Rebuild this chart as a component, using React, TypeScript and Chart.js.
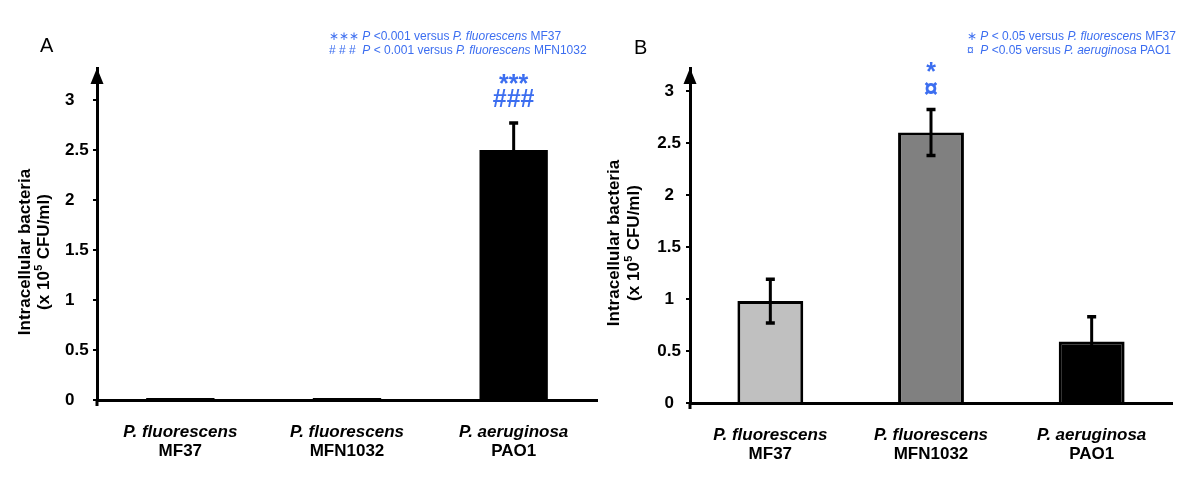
import React, { useEffect, useRef } from "react";
import { Chart, registerables } from "chart.js";

Chart.register(...registerables);

const FONT = '"Liberation Sans", Arial, sans-serif';
const BLUE = "#3c6ef0";

// ---- data ----
const species = ["P. fluorescens", "P. fluorescens", "P. aeruginosa"];
const strains = ["MF37", "MFN1032", "PAO1"];
const yTicks = [0, 0.5, 1, 1.5, 2, 2.5, 3];

const valuesA = [0.02, 0.02, 2.5];
const errorsA = [0, 0, 0.27];
const colorsA = ["#000000", "#000000", "#000000"];
const marksA: string[][] = [[], [], ["***", "###"]];

const valuesB = [0.98, 2.6, 0.59];
const errorsB = [0.21, 0.22, 0.24];
const colorsB = ["#c0c0c0", "#808080", "#000000"];
const marksB: string[][] = [[], ["*", "¤"], []];

type Seg = [string, boolean];
const legendA: Seg[][] = [
  [["∗∗∗ ", false], ["P", true], [" <0.001 versus ", false], ["P. fluorescens", true], [" MF37", false]],
  [["# # #  ", false], ["P", true], [" < 0.001 versus ", false], ["P. fluorescens", true], [" MFN1032", false]],
];
const legendB: Seg[][] = [
  [["∗ ", false], ["P", true], [" < 0.05 versus ", false], ["P. fluorescens", true], [" MF37", false]],
  [["¤  ", false], ["P", true], [" <0.05 versus ", false], ["P. aeruginosa", true], [" PAO1", false]],
];

const titleLine1 = "Intracellular bacteria";
const titleLine2 = ["(x 10", "5", " CFU/ml)"];

interface PanelCfg {
  letter: string;
  values: number[];
  errors: number[];
  colors: string[];
  marks: string[][];
  legend: Seg[][];
  borderWidth: number;
  yMax: number;
  padLeft: number;
  yWidth: number;
  tickAlign: string;
  padRight: number;
  xHeight: number;
  letterX: number;
  letterY: number;
  legendX: number;
  legendY: number[];
  titleX: number[];
  titleY: number;
  markGap: number;
  markStep: number;
}

const cfgA: PanelCfg = {
  letter: "A",
  values: valuesA,
  errors: errorsA,
  colors: colorsA,
  marks: marksA,
  legend: legendA,
  borderWidth: 0,
  yMax: 3.32,
  padLeft: 65,
  yWidth: 32,
  tickAlign: "far",
  padRight: 3,
  xHeight: 80,
  letterX: 40,
  letterY: 52,
  legendX: 329,
  legendY: [37, 51],
  titleX: [25, 44],
  titleY: 252,
  markGap: 16,
  markStep: 15,
};

const cfgB: PanelCfg = {
  letter: "B",
  values: valuesB,
  errors: errorsB,
  colors: colorsB,
  marks: marksB,
  legend: legendB,
  borderWidth: 3,
  yMax: 3.22,
  padLeft: 0,
  yWidth: 90,
  tickAlign: "center",
  padRight: 28,
  xHeight: 77,
  letterX: 34,
  letterY: 54,
  legendX: 367,
  legendY: [37, 51],
  titleX: [14, 34],
  titleY: 243,
  markGap: 13,
  markStep: 17,
};

function makeDecor(cfg: PanelCfg) {
  return {
    id: "decor",
    afterDraw(chart: any) {
      const { ctx, chartArea, scales } = chart;
      const xs = scales.x;
      const ys = scales.y;
      ctx.save();

      // error bars
      ctx.strokeStyle = "#000";
      ctx.lineCap = "butt";
      cfg.values.forEach((v, i) => {
        const e = cfg.errors[i];
        if (!e) return;
        const px = xs.getPixelForValue(i);
        const top = ys.getPixelForValue(v + e);
        const bot = ys.getPixelForValue(v - e);
        ctx.lineWidth = 3;
        ctx.beginPath();
        ctx.moveTo(px, top);
        ctx.lineTo(px, bot);
        ctx.stroke();
        ctx.lineWidth = 3.5;
        ctx.beginPath();
        ctx.moveTo(px - 4.5, top);
        ctx.lineTo(px + 4.5, top);
        ctx.moveTo(px - 4.5, bot);
        ctx.lineTo(px + 4.5, bot);
        ctx.stroke();
      });

      // significance marks
      ctx.fillStyle = BLUE;
      ctx.textAlign = "center";
      ctx.textBaseline = "alphabetic";
      cfg.marks.forEach((m, i) => {
        if (!m.length) return;
        const px = xs.getPixelForValue(i);
        const top = ys.getPixelForValue(cfg.values[i] + cfg.errors[i]);
        const n = m.length;
        m.forEach((s, k) => {
          ctx.font = `bold 25px ${FONT}`;
          const yy = top - cfg.markGap - (n - 1 - k) * cfg.markStep;
          ctx.fillText(s, px, yy);
        });
      });

      // arrow on y axis
      const L = chartArea.left;
      const T = chartArea.top;
      ctx.fillStyle = "#000";
      ctx.beginPath();
      ctx.moveTo(L, T);
      ctx.lineTo(L - 6.5, T + 16);
      ctx.lineTo(L + 6.5, T + 16);
      ctx.closePath();
      ctx.fill();
      ctx.lineWidth = 3;
      ctx.strokeStyle = "#000";
      ctx.beginPath();
      ctx.moveTo(L, chartArea.bottom);
      ctx.lineTo(L, chartArea.bottom + 6);
      ctx.stroke();

      // x labels
      ctx.fillStyle = "#000";
      ctx.textAlign = "center";
      ctx.textBaseline = "middle";
      strains.forEach((s, i) => {
        const px = xs.getPixelForValue(i);
        ctx.font = `italic bold 17px ${FONT}`;
        ctx.fillText(species[i], px, chartArea.bottom + 32);
        ctx.font = `bold 17px ${FONT}`;
        ctx.fillText(s, px, chartArea.bottom + 51);
      });

      // y title
      ctx.save();
      ctx.translate(cfg.titleX[0], cfg.titleY);
      ctx.rotate(-Math.PI / 2);
      ctx.font = `bold 17px ${FONT}`;
      ctx.textAlign = "center";
      ctx.textBaseline = "middle";
      ctx.fillText(titleLine1, 0, 0);
      ctx.restore();

      ctx.save();
      ctx.translate(cfg.titleX[1], cfg.titleY);
      ctx.rotate(-Math.PI / 2);
      ctx.textBaseline = "middle";
      ctx.textAlign = "left";
      ctx.font = `bold 17px ${FONT}`;
      const w1 = ctx.measureText(titleLine2[0]).width;
      const w3 = ctx.measureText(titleLine2[2]).width;
      ctx.font = `bold 11px ${FONT}`;
      const w2 = ctx.measureText(titleLine2[1]).width + 1;
      let sx = -(w1 + w2 + w3) / 2;
      ctx.font = `bold 17px ${FONT}`;
      ctx.fillText(titleLine2[0], sx, 0);
      sx += w1;
      ctx.font = `bold 11px ${FONT}`;
      ctx.fillText(titleLine2[1], sx + 0.5, -5);
      sx += w2;
      ctx.font = `bold 17px ${FONT}`;
      ctx.fillText(titleLine2[2], sx, 0);
      ctx.restore();

      // panel letter
      ctx.fillStyle = "#000";
      ctx.textAlign = "left";
      ctx.textBaseline = "alphabetic";
      ctx.font = `20px ${FONT}`;
      ctx.fillText(cfg.letter, cfg.letterX, cfg.letterY);

      // legend
      ctx.fillStyle = BLUE;
      ctx.textBaseline = "middle";
      cfg.legend.forEach((line, li) => {
        let lx = cfg.legendX;
        line.forEach(([t, it]) => {
          ctx.font = `${it ? "italic " : ""}12px ${FONT}`;
          ctx.fillText(t, lx, cfg.legendY[li]);
          lx += ctx.measureText(t).width;
        });
      });

      ctx.restore();
    },
  };
}

function Panel({ cfg, left }: { cfg: PanelCfg; left: number }) {
  const ref = useRef<HTMLCanvasElement>(null);
  useEffect(() => {
    if (!ref.current) return;
    const chart = new Chart(ref.current, {
      type: "bar",
      data: {
        labels: strains,
        datasets: [
          {
            data: cfg.values,
            backgroundColor: cfg.colors,
            borderColor: "#000000",
            borderWidth: cfg.borderWidth,
            barPercentage: 0.41,
            categoryPercentage: 1,
          },
        ],
      },
      options: {
        responsive: false,
        animation: false,
        events: [],
        layout: { padding: { left: cfg.padLeft, right: cfg.padRight, top: 68, bottom: 0 } },
        plugins: {
          legend: { display: false },
          tooltip: { enabled: false },
          title: { display: false },
        },
        scales: {
          x: {
            type: "category",
            z: 1,
            offset: true,
            ticks: { display: false },
            grid: { display: false },
            border: { display: true, color: "#000", width: 3 },
            afterFit: (s: any) => {
              s.height = cfg.xHeight;
            },
          },
          y: {
            type: "linear",
            z: 1,
            min: 0,
            max: cfg.yMax,
            afterBuildTicks: (s: any) => {
              s.ticks = yTicks.map((v) => ({ value: v }));
            },
            afterFit: (s: any) => {
              s.width = cfg.yWidth;
            },
            border: { display: true, color: "#000", width: 3 },
            grid: {
              display: true,
              drawOnChartArea: false,
              drawTicks: true,
              tickLength: 4,
              color: "#000",
              lineWidth: 2,
            },
            ticks: {
              crossAlign: cfg.tickAlign,
              padding: 5,
              color: "#000",
              font: { family: FONT, size: 17, weight: "bold" },
              callback: (v: any) => String(v),
            },
          },
        },
      } as any,
      plugins: [makeDecor(cfg)],
    });
    return () => chart.destroy();
  }, []);
  return (
    <canvas
      ref={ref}
      width={600}
      height={480}
      style={{ position: "absolute", left, top: 0, width: 600, height: 480 }}
    />
  );
}

export default function App() {
  return (
    <div
      style={{
        position: "absolute",
        left: 0,
        top: 0,
        width: 1200,
        height: 480,
        background: "#ffffff",
        overflow: "hidden",
      }}
    >
      <Panel cfg={cfgA} left={0} />
      <Panel cfg={cfgB} left={600} />
    </div>
  );
}
